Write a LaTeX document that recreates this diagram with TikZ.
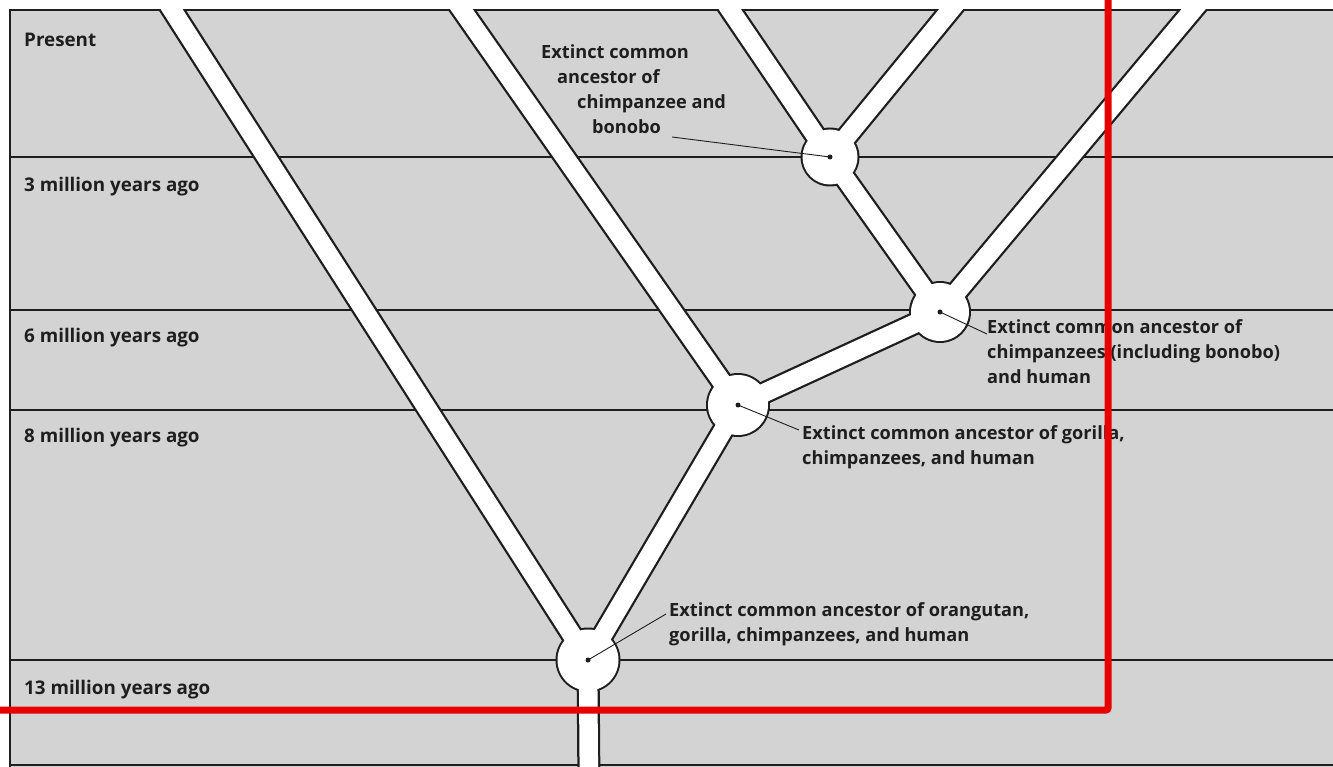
\documentclass[tikz,border=0pt]{standalone}
\usepackage{fontspec}
\setmainfont{Open Sans}
\definecolor{panel}{RGB}{211,211,211}
\definecolor{ink}{RGB}{30,30,30}
\definecolor{marker}{RGB}{232,0,0}
\tikzset{
  era/.style={anchor=west,inner sep=0pt,text=ink,font=\bfseries\fontsize{18.8}{25}\selectfont},
  note/.style={anchor=north west,inner sep=0pt,align=left,text=ink,font=\bfseries\fontsize{18.2}{25}\selectfont},
  outline/.style={ink,line width=23pt},
  inside/.style={white,line width=18.5pt},
  leader/.style={ink,line width=0.9pt},
  grid/.style={ink,line width=1.8pt}
}
\begin{document}
\begin{tikzpicture}[x=1pt,y=-1pt]
    \useasboundingbox (0,0) rectangle (1333,767);
    \fill[white] (0,0) rectangle (1333,767);
    \fill[panel] (10,10) rectangle (1340,775);
    \draw[grid] (10,775) -- (10,10) -- (1340,10);
    \draw[grid] (10,157) -- (1340,157);
    \draw[grid] (10,310) -- (1340,310);
    \draw[grid] (10,410) -- (1340,410);
    \draw[grid] (10,660) -- (1340,660);
    \draw[grid] (10,765) -- (1340,765);
    \coordinate (orangutan) at (153,-20);
    \coordinate (gorilla) at (441,-20);
    \coordinate (chimp) at (710,-20);
    \coordinate (bonobo) at (975,-20);
    \coordinate (human) at (1218,-20);
    \coordinate (root) at (589,790);
    \coordinate (cb) at (830,157);
    \coordinate (ch) at (940,312);
    \coordinate (gch) at (738,405);
    \coordinate (ogch) at (588,660);
    \begin{scope}
        \clip (10,10) rectangle (1340,767);
        \draw[outline] (orangutan) -- (ogch) (gorilla) -- (gch) (chimp) -- (cb) (bonobo) -- (cb) (human) -- (ch)
            (cb) -- (ch) -- (gch) -- (ogch) -- (root);
        \fill[ink] (cb) circle (29.5) (ch) circle (31) (gch) circle (32) (ogch) circle (32.5);
        \draw[inside] (orangutan) -- (ogch) (gorilla) -- (gch) (chimp) -- (cb) (bonobo) -- (cb) (human) -- (ch)
            (cb) -- (ch) -- (gch) -- (ogch) -- (root);
        \fill[white] (cb) circle (27.5) (ch) circle (29) (gch) circle (30) (ogch) circle (30.5);
    \end{scope}
    \fill[ink] (cb) circle (2.5) (ch) circle (2.5) (gch) circle (2.5) (ogch) circle (2.5);
    \node[era] (present) at (24,40) {Present};
    \node[era] (mya3) at (24,187) {3 million years ago};
    \node[era] (mya6) at (24,338) {6 million years ago};
    \node[era] (mya8) at (24,438) {8 million years ago};
    \node[era] (mya13) at (24,690) {13 million years ago};
    \node[note] (cbtext) at (541,44) {Extinct common\\\hspace*{16pt}ancestor of\\\hspace*{36pt}chimpanzee and\\\hspace*{51pt}bonobo};
    \node[note] (chtext) at (987,319) {Extinct common ancestor of\\chimpanzees (including bonobo)\\and human};
    \node[note] (gchtext) at (802,425) {Extinct common ancestor of gorilla,\\chimpanzees, and human};
    \node[note] (ogchtext) at (669,602) {Extinct common ancestor of orangutan,\\gorilla, chimpanzees, and human};
    \coordinate (cbend) at (672,137);
    \draw[leader] (cb) -- (cbend);
    \draw[leader] (ch) -- (chtext.west |- 0,334);
    \draw[leader] (gch) -- ([xshift=-3pt]gchtext.north west |- 0,430);
    \draw[leader] (ogch) -- ([xshift=-3pt]ogchtext.north west |- 0,614);
    \draw[marker,line width=7pt,rounded corners=2pt] (-5,710) -- (1108,710) -- (1108,-5);
\end{tikzpicture}
\end{document}
